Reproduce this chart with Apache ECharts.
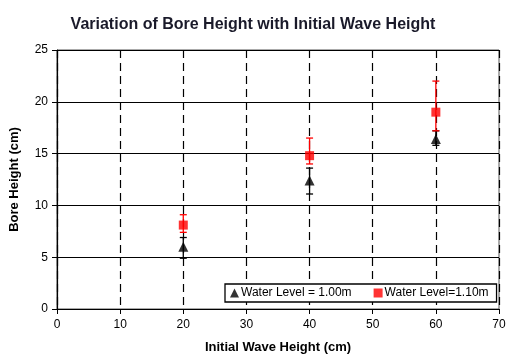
<!DOCTYPE html>
<html>
<head>
<meta charset="utf-8">
<script src="https://cdn.jsdelivr.net/npm/echarts@6/dist/echarts.min.js"></script>
<style>
  html, body { margin: 0; padding: 0; background: #fff; }
  #chart { width: 506px; height: 354px; }
</style>
</head>
<body>
<div id="chart"></div>
<script>
// Initial wave height (cm)
const waveHeights = [20, 40, 60];

// Water level 1.00 m: mean bore height and error bar limits (cm)
const bore100 = [6.0, 12.4, 16.4];
const bore100Low = [4.9, 11.1, 15.8];
const bore100High = [6.9, 13.6, 17.2];

// Water level 1.10 m: mean bore height and error bar limits (cm)
const bore110 = [8.1, 14.8, 19.0];
const bore110Low = [7.4, 14.0, 17.2];
const bore110High = [9.1, 16.5, 22.0];

const seriesNames = ['Water Level = 1.00m', 'Water Level=1.10m'];
const fontFamily = '"Liberation Sans", Arial, sans-serif';

function errorSeries(color, low, high) {
  return {
    type: 'custom',
    silent: true,
    z: 3,
    data: waveHeights.map((x, i) => [x, low[i], high[i]]),
    renderItem: function (params, api) {
      const x = api.value(0);
      const lo = api.coord([x, api.value(1)]);
      const hi = api.coord([x, api.value(2)]);
      const cap = 3.5;
      const style = { stroke: color, lineWidth: 1.3 };
      return {
        type: 'group',
        children: [
          { type: 'line', shape: { x1: lo[0], y1: lo[1], x2: hi[0], y2: hi[1] }, style: style },
          { type: 'line', shape: { x1: lo[0] - cap, y1: lo[1], x2: lo[0] + cap, y2: lo[1] }, style: style },
          { type: 'line', shape: { x1: hi[0] - cap, y1: hi[1], x2: hi[0] + cap, y2: hi[1] }, style: style }
        ]
      };
    }
  };
}

const chart = echarts.init(document.getElementById('chart'));
chart.setOption({
  animation: false,
  backgroundColor: '#fff',
  textStyle: { fontFamily: fontFamily },
  title: {
    text: 'Variation of Bore Height with Initial Wave Height',
    left: 'center',
    top: 12,
    textStyle: { fontFamily: fontFamily, fontSize: 16, fontWeight: 'bold', color: '#1a1a2a' }
  },
  grid: {
    left: 57, right: 7, top: 50, bottom: 45,
    outerBoundsMode: 'none',
    containLabel: false,
    show: true, borderColor: '#555', borderWidth: 1, backgroundColor: '#fff'
  },
  legend: {
    left: 225,
    top: 284,
    padding: [3, 8, 3, 5],
    itemGap: 22,
    itemWidth: 9,
    itemHeight: 9,
    borderColor: '#000',
    borderWidth: 1.3,
    backgroundColor: '#fff',
    textStyle: { fontFamily: fontFamily, fontSize: 12, color: '#000', padding: [0, 0, 0, -3] },
    data: [
      { name: seriesNames[0], icon: 'triangle' },
      { name: seriesNames[1], icon: 'rect' }
    ]
  },
  xAxis: {
    type: 'value',
    min: 0, max: 70, interval: 10,
    name: 'Initial Wave Height (cm)',
    nameLocation: 'middle',
    nameGap: 32,
    nameTextStyle: { fontFamily: fontFamily, fontSize: 13, fontWeight: 'bold', color: '#000' },
    axisLine: { show: true, onZero: false, lineStyle: { color: '#000', width: 1 } },
    axisTick: { show: true, length: 5, lineStyle: { color: '#000' } },
    axisLabel: { fontFamily: fontFamily, fontSize: 12, color: '#000', margin: 10 },
    splitLine: { show: true, lineStyle: { color: '#000', type: [8, 5], width: 1.2 } }
  },
  yAxis: {
    type: 'value',
    min: 0, max: 25, interval: 5,
    name: 'Bore Height (cm)',
    nameLocation: 'middle',
    nameGap: 36,
    nameTextStyle: { fontFamily: fontFamily, fontSize: 13, fontWeight: 'bold', color: '#000' },
    axisLine: { show: true, onZero: false, lineStyle: { color: '#000', width: 1.2 } },
    axisTick: { show: true, length: 5, lineStyle: { color: '#000' } },
    axisLabel: { fontFamily: fontFamily, fontSize: 12, color: '#000', margin: 9 },
    splitLine: { show: true, lineStyle: { color: '#000', width: 1.2 } }
  },
  series: [
    errorSeries('#000', bore100Low, bore100High),
    errorSeries('#ff0000', bore110Low, bore110High),
    {
      name: seriesNames[0],
      type: 'scatter',
      symbol: 'triangle',
      symbolSize: 10,
      z: 4,
      itemStyle: { color: '#000' },
      data: waveHeights.map((x, i) => [x, bore100[i]])
    },
    {
      name: seriesNames[1],
      type: 'scatter',
      symbol: 'rect',
      symbolSize: 9,
      z: 4,
      itemStyle: { color: '#ff0000' },
      data: waveHeights.map((x, i) => [x, bore110[i]])
    }
  ]
});
</script>
</body>
</html>
